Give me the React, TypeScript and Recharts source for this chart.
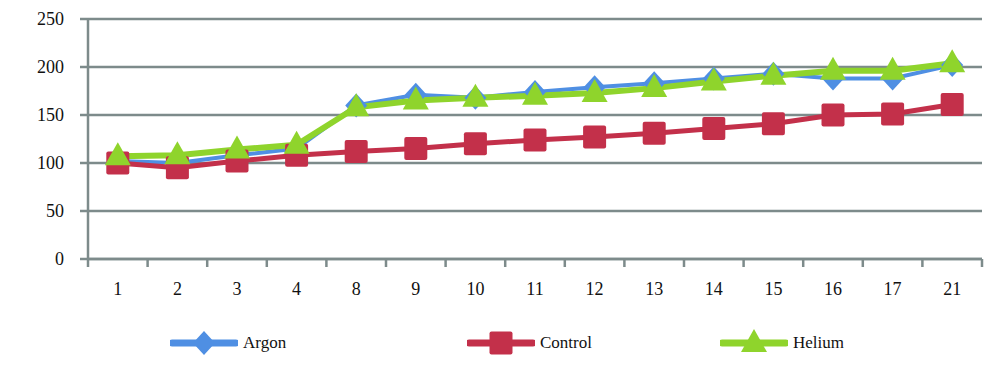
import React from "react";
import { LineChart, Line, XAxis, YAxis, CartesianGrid, Legend } from "recharts";

const categories = ["1", "2", "3", "4", "8", "9", "10", "11", "12", "13", "14", "15", "16", "17", "21"];
const argon = [102, 100, 108, 115, 160, 171, 168, 174, 179, 183, 188, 193, 188, 188, 202];
const control = [100, 95, 102, 108, 112, 115, 120, 124, 127, 131, 136, 141, 150, 151, 161];
const helium = [107, 108, 114, 119, 158, 165, 168, 170, 173, 178, 185, 191, 196, 196, 204];
const yTicks = [0, 50, 100, 150, 200, 250];

const data = categories.map((c, i) => ({
  cat: c,
  pos: i + 0.5,
  Argon: argon[i],
  Control: control[i],
  Helium: helium[i],
}));
const boundaryTicks = categories.map((_, i) => i).concat([categories.length]);

const BLUE = "#4f8fe3";
const RED = "#c3304a";
const GREEN = "#8fd42c";
const GRID = "#7d8b8b";
const FONT = "'Liberation Serif', serif";

const Diamond = (props: any) => {
  const { cx, cy, fill } = props;
  if (cx == null || cy == null) return null;
  return <path d={`M${cx},${cy - 12} L${cx + 11},${cy} L${cx},${cy + 12} L${cx - 11},${cy} Z`} fill={fill} />;
};
const Square = (props: any) => {
  const { cx, cy, fill } = props;
  if (cx == null || cy == null) return null;
  return <rect x={cx - 11.5} y={cy - 11.5} width={23} height={23} rx={2} fill={fill} />;
};
const Triangle = (props: any) => {
  const { cx, cy, fill } = props;
  if (cx == null || cy == null) return null;
  return <path d={`M${cx},${cy - 14} L${cx + 13},${cy + 9} L${cx - 13},${cy + 9} Z`} fill={fill} />;
};

const legendItems = [
  { name: "Argon", color: BLUE, shape: Diamond, left: 170 },
  { name: "Control", color: RED, shape: Square, left: 467 },
  { name: "Helium", color: GREEN, shape: Triangle, left: 720 },
];

const LegendContent = () => (
  <div style={{ position: "relative", width: 1000, height: 30 }}>
    {legendItems.map((it) => {
      const Shape = it.shape;
      return (
        <div key={it.name} style={{ position: "absolute", left: it.left, top: 0, display: "flex", alignItems: "center" }}>
          <svg width={68} height={30}>
            <line x1={2} y1={15} x2={66} y2={15} stroke={it.color} strokeWidth={7} strokeLinecap="round" />
            <Shape cx={34} cy={15} fill={it.color} />
          </svg>
          <span style={{ fontFamily: FONT, fontSize: 17, color: "#111", marginLeft: 5 }}>{it.name}</span>
        </div>
      );
    })}
  </div>
);

export default function App() {
  return (
    <div style={{ position: "absolute", left: 0, top: 0, background: "#fff" }}>
      <LineChart width={1000} height={381} data={data} margin={{ top: 19, right: 18, left: 0, bottom: 44 }}>
        <CartesianGrid horizontal vertical={false} stroke={GRID} strokeWidth={2.5} xAxisId="b" />
        <XAxis
          xAxisId="a"
          dataKey="pos"
          type="number"
          domain={[0, categories.length]}
          ticks={boundaryTicks}
          allowDataOverflow
          tickFormatter={() => ""}
          tickSize={8}
          height={8}
          stroke={GRID}
          strokeWidth={2.5}
          tickLine={{ stroke: GRID, strokeWidth: 2.5 }}
          axisLine={{ stroke: GRID, strokeWidth: 2.5 }}
        />
        <XAxis
          xAxisId="b"
          dataKey="cat"
          scale="band"
          axisLine={false}
          tickLine={false}
          tickSize={0}
          tickMargin={15}
          height={40}
          interval={0}
          tick={{ fill: "#111", fontFamily: FONT, fontSize: 18 }}
        />
        <YAxis
          domain={[0, 250]}
          ticks={yTicks}
          width={88}
          tickSize={8}
          tickMargin={16}
          axisLine={{ stroke: GRID, strokeWidth: 2.5 }}
          tickLine={{ stroke: GRID, strokeWidth: 2.5 }}
          tick={{ fill: "#111", fontFamily: FONT, fontSize: 18 }}
        />
        <Legend content={<LegendContent />} wrapperStyle={{ left: 0, top: 328, width: 1000, height: 30 }} />
        <Line xAxisId="b" dataKey="Argon" stroke={BLUE} strokeWidth={4} dot={<Diamond fill={BLUE} />} activeDot={false} isAnimationActive={false} />
        <Line xAxisId="b" dataKey="Control" stroke={RED} strokeWidth={5} dot={<Square fill={RED} />} activeDot={false} isAnimationActive={false} />
        <Line xAxisId="b" dataKey="Helium" stroke={GREEN} strokeWidth={6} dot={<Triangle fill={GREEN} />} activeDot={false} isAnimationActive={false} />
      </LineChart>
    </div>
  );
}
